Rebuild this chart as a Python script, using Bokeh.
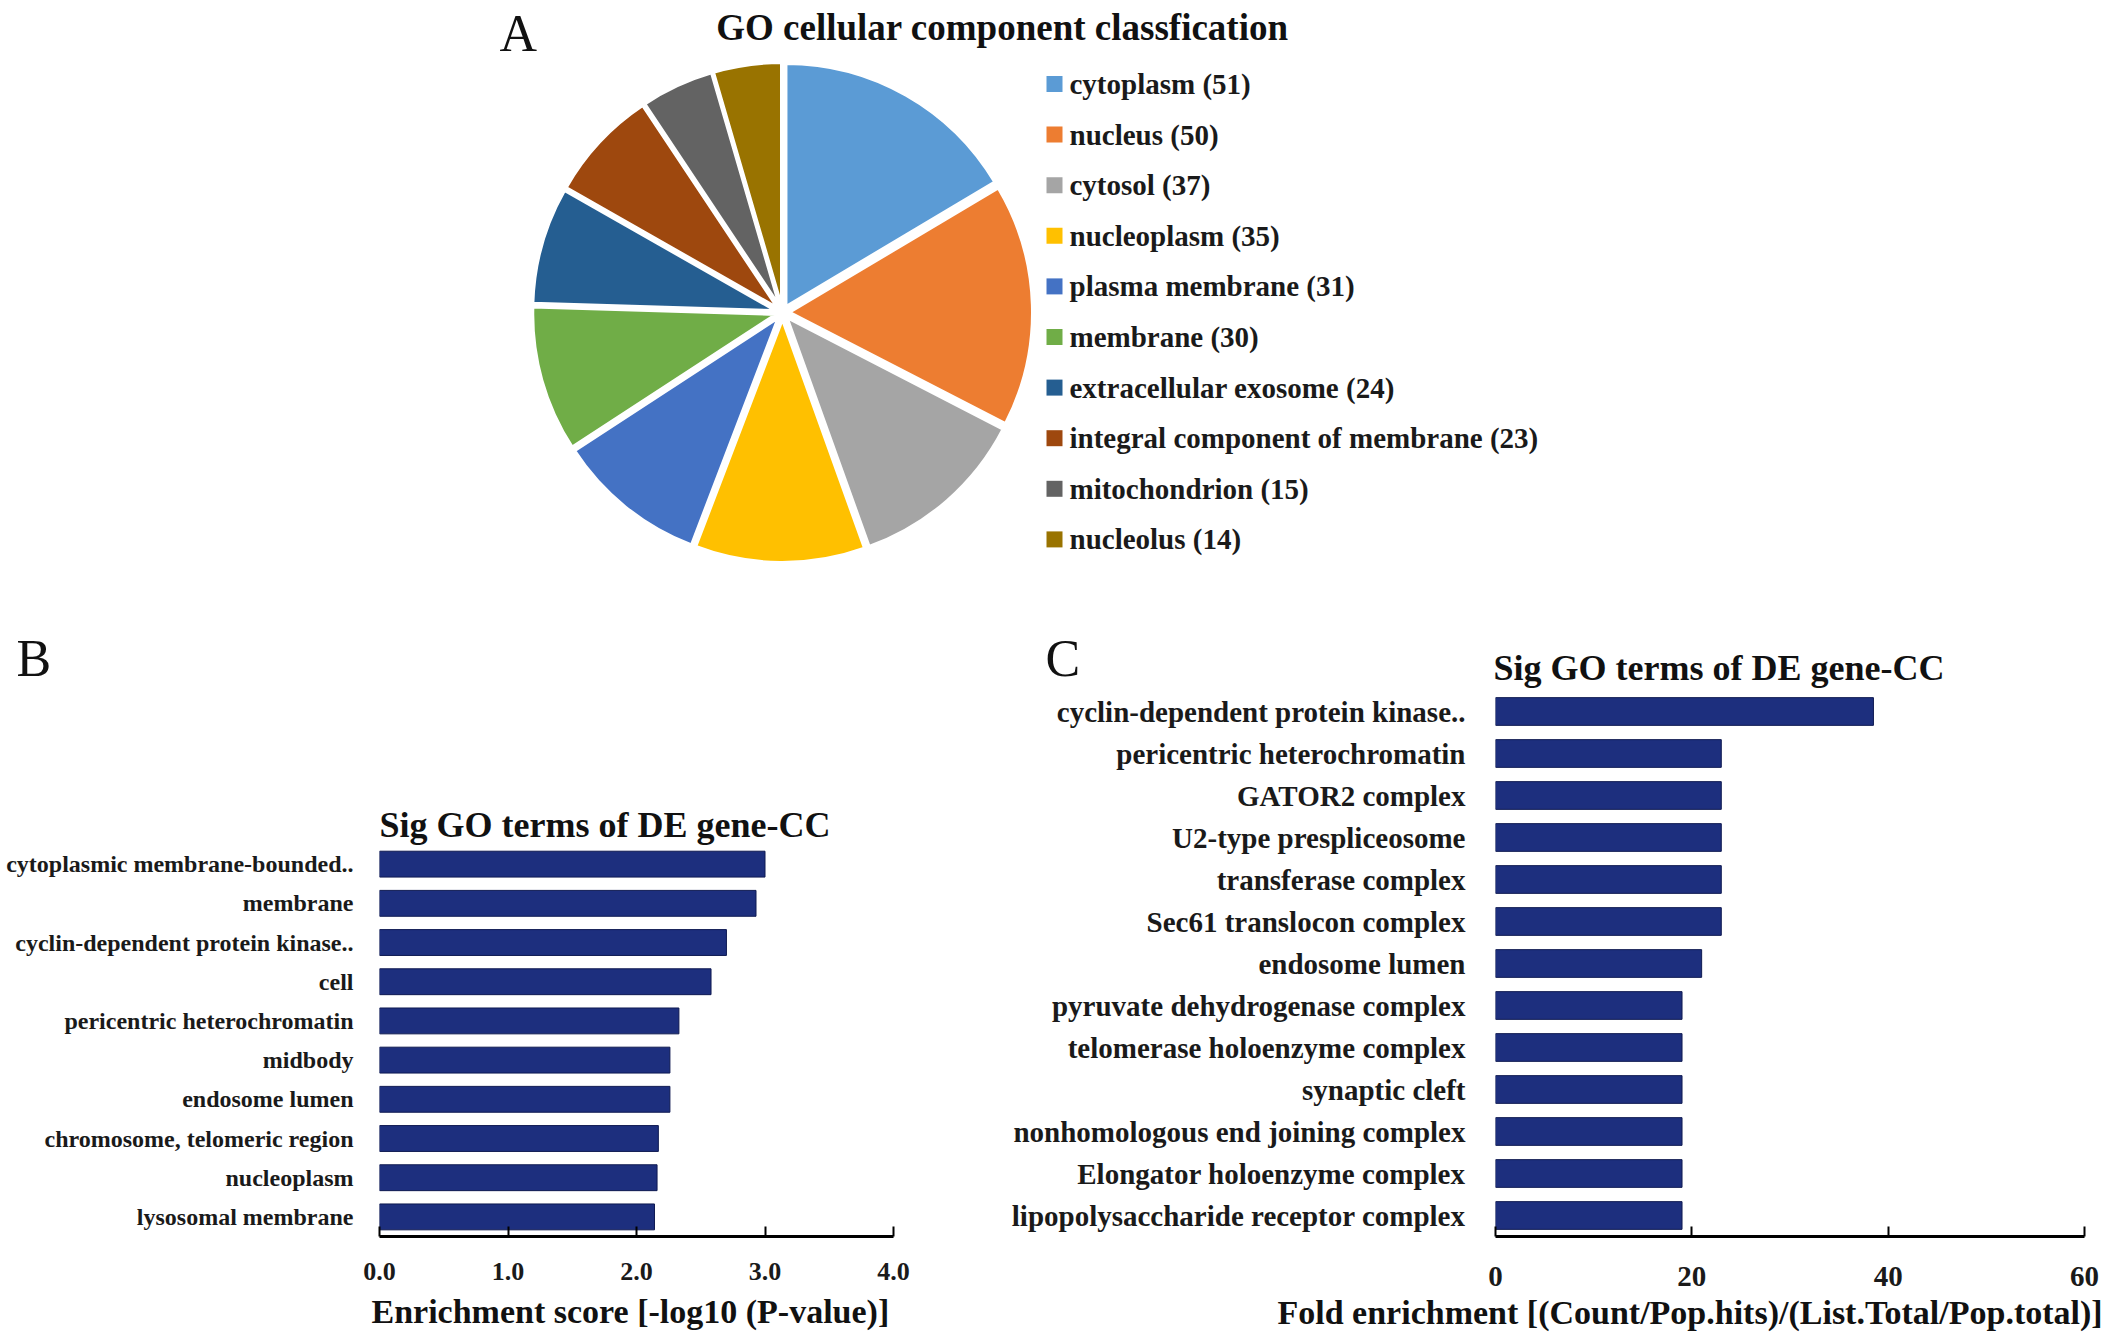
import numpy as np
from bokeh.plotting import figure
from bokeh.layouts import column, row
from bokeh.models import (ColumnDataSource, FixedTicker, Label, PrintfTickFormatter, Range1d, Title)
from bokeh.core.properties import value
from bokeh.embed import file_html
from bokeh.resources import INLINE

FONT = "Liberation Serif"
INK = "#111111"

# A: GO cellular component classification (pie)
cc_terms = ["cytoplasm", "nucleus", "cytosol", "nucleoplasm", "plasma membrane",
            "membrane", "extracellular exosome", "integral component of membrane",
            "mitochondrion", "nucleolus"]
cc_counts = [51, 50, 37, 35, 31, 30, 24, 23, 15, 14]
cc_colors = ["#5B9BD5", "#ED7D31", "#A5A5A5", "#FFC000", "#4472C4",
             "#70AD47", "#255E91", "#9E480E", "#636363", "#997300"]

# B: enrichment score
b_terms = ["cytoplasmic membrane-bounded..", "membrane", "cyclin-dependent protein kinase..",
           "cell", "pericentric heterochromatin", "midbody", "endosome lumen",
           "chromosome, telomeric region", "nucleoplasm", "lysosomal membrane"]
b_scores = [3.00, 2.93, 2.70, 2.58, 2.33, 2.26, 2.26, 2.17, 2.16, 2.14]
b_ticks = [0, 1, 2, 3, 4]

# C: fold enrichment
c_terms = ["cyclin-dependent protein kinase..", "pericentric heterochromatin", "GATOR2 complex",
           "U2-type prespliceosome", "transferase complex", "Sec61 translocon complex",
           "endosome lumen", "pyruvate dehydrogenase complex", "telomerase holoenzyme complex",
           "synaptic cleft", "nonhomologous end joining complex", "Elongator holoenzyme complex",
           "lipopolysaccharide receptor complex"]
c_fold = [38.5, 23.0, 23.0, 23.0, 23.0, 23.0, 21.0, 19.0, 19.0, 19.0, 19.0, 19.0, 19.0]
c_ticks = [0, 20, 40, 60]

SIG_TITLE = "Sig GO terms of DE gene-CC"
B_XLABEL = "Enrichment score [-log10 (P-value)]"
C_XLABEL = "Fold enrichment [(Count/Pop.hits)/(List.Total/Pop.total)]"


def label(p, x, y, text, size, bold=False, align="left"):
    p.add_layout(Label(x=x, y=y, text=text, text_font=FONT, text_font_size=size,
                       text_font_style="bold" if bold else "normal", text_align=align,
                       text_baseline="alphabetic", text_color=INK))


# ---- top strip: pie, legend, panel letters; data units are page pixels
WA, HA = 2126, 690
pa = figure(width=WA, height=HA, title=None, x_range=Range1d(0, WA), y_range=Range1d(0, HA),
            x_axis_location=None, y_axis_location=None,
            toolbar_location=None, output_backend="svg", min_border=0)
pa.grid.visible = False
pa.outline_line_color = None

total = sum(cc_counts)
edges = np.cumsum([0] + cc_counts) / total * 2 * np.pi
start = np.pi / 2 - edges[:-1]
end = np.pi / 2 - edges[1:]
mid = (start + end) / 2
cx, cy, r, explode = 782, HA - 312, 243, 7
pie_src = ColumnDataSource(dict(x=cx + explode * np.cos(mid), y=cy + explode * np.sin(mid),
                                start=start, end=end, color=cc_colors))
pa.wedge(x="x", y="y", radius=r, start_angle="start", end_angle="end", direction="clock",
         fill_color="color", line_color="white", line_width=3, source=pie_src)

rows_i = np.arange(len(cc_terms))
leg_y = HA - (83.5 + 50.6 * rows_i)
pa.rect(x=1054, y=leg_y, width=16, height=16, fill_color=cc_colors, line_color=None)
pa.text(x=1069, y=leg_y, text=[f"{t} ({c})" for t, c in zip(cc_terms, cc_counts)],
        text_font=value(FONT), text_font_style="bold", text_font_size="29px",
        text_baseline="middle", text_color="#1a1a1a")

# baselines nudged up: Label sets its text a little low
label(pa, 1002, HA - 27, "GO cellular component classfication", "37px", bold=True, align="center")
label(pa, 499, HA - 33, "A", "52px")
label(pa, 16, HA - 658, "B", "52px")
label(pa, 1045, HA - 658, "C", "52px")
label(pa, 1493, HA - 667, SIG_TITLE, "36px", bold=True)


def bar_figure(terms, vals, ticks, x_end, y_end, width, left, right, tick_fmt, label_px,
               standoff, tick_px, tick_standoff, xlabel, xlabel_offset, xlabel_standoff):
    n = len(terms)
    pos = [n - i - 0.5 for i in range(n)]
    p = figure(width=width, height=1344 - HA, title=None, x_range=Range1d(0, x_end),
               y_range=Range1d(0, y_end), toolbar_location=None, output_backend="svg",
               min_border_left=left, min_border_right=right, min_border_top=0,
               min_border_bottom=108)
    p.hbar(y=pos, left=0, right=vals, height=0.66, fill_color="#1d2f7e",
           line_color="#0f1a52", line_width=1)
    p.grid.visible = False
    p.outline_line_color = None

    yax = p.yaxis[0]
    yax.ticker = FixedTicker(ticks=pos)
    yax.major_label_overrides = {k: t for k, t in zip(pos, terms)}
    yax.axis_line_color = None
    yax.major_tick_line_color = None
    yax.minor_tick_line_color = None
    yax.major_label_text_font = FONT
    yax.major_label_text_font_style = "bold"
    yax.major_label_text_font_size = label_px
    yax.major_label_text_color = "#1a1a1a"
    yax.major_label_standoff = standoff

    xax = p.xaxis[0]
    xax.ticker = FixedTicker(ticks=ticks)
    xax.formatter = PrintfTickFormatter(format=tick_fmt)
    xax.axis_line_width = 3
    xax.axis_line_color = "black"
    xax.major_tick_in = 10
    xax.major_tick_out = 0
    xax.major_tick_line_width = 2
    xax.minor_tick_line_color = None
    xax.major_label_text_font = FONT
    xax.major_label_text_font_style = "bold"
    xax.major_label_text_font_size = tick_px
    xax.major_label_text_color = "#1a1a1a"
    xax.major_label_standoff = tick_standoff

    p.add_layout(Title(text=xlabel, align="left", offset=xlabel_offset, text_font=FONT,
                       text_font_size="34px", text_font_style="bold", text_color=INK,
                       standoff=xlabel_standoff), "below")
    return p


# frames run from page y 690 to 1236; B keeps a 39.2 px row pitch
pb = bar_figure(b_terms, b_scores, b_ticks, 4, 13.93, 1000, 379, 107, "%.1f", "24px", 20,
                "26px", 26, B_XLABEL, -8, 16)
label(pb, 0, 10.5, SIG_TITLE, "36px", bold=True)

pc = bar_figure(c_terms, c_fold, c_ticks, 60, 13, 1126, 495, 42, "%d", "29px", 24,
                "29px", 30, C_XLABEL, -218, 6)

layout = column(pa, row(pb, pc))
open("out.html", "w").write(file_html(layout, INLINE))
